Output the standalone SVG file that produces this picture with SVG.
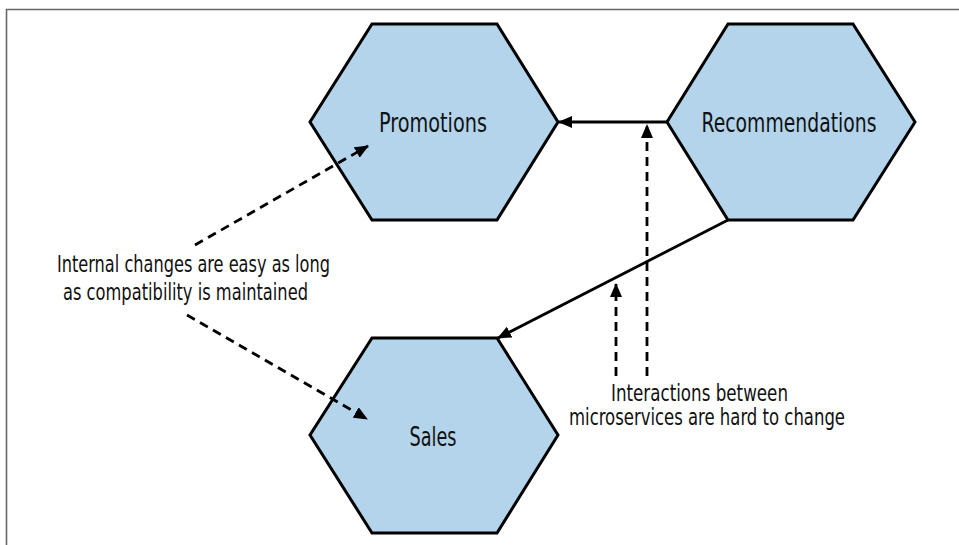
<svg xmlns="http://www.w3.org/2000/svg" width="959" height="545" viewBox="0 0 959 545">
<style>
.hex{fill:#b3d4ea;stroke:#000;stroke-width:3;stroke-linejoin:miter}
.lbl{font-family:"Liberation Sans Narrow","DejaVu Sans Condensed","Liberation Sans",sans-serif;fill:#111}
.node{font-size:26px;text-anchor:middle}
.note{font-size:23px}
.solid{stroke:#000;stroke-width:2.8;fill:none}
.dash{stroke:#000;stroke-width:2.8;fill:none;stroke-dasharray:9 6}
</style>
<defs>
<marker id="ah" markerUnits="userSpaceOnUse" markerWidth="14" markerHeight="12" refX="13" refY="6" orient="auto">
<path d="M0,0 L14,6 L0,12 Z" fill="#000"/>
</marker>
</defs>
<rect width="959" height="545" fill="#fff"/>
<path d="M6.5,545 V9.5 H959" fill="none" stroke="#666" stroke-width="1.6"/>
<g id="promotions">
<polygon class="hex" points="372,24 497,24 558,122 497,220 372,220 310,122"/>
<text class="lbl node" x="433" y="132" textLength="108" lengthAdjust="spacingAndGlyphs">Promotions</text>
</g>
<g id="recommendations">
<polygon class="hex" points="728,24 853,24 915,122 853,220 728,220 667,122"/>
<text class="lbl node" x="789" y="132" textLength="175" lengthAdjust="spacingAndGlyphs">Recommendations</text>
</g>
<g id="sales">
<polygon class="hex" points="372,338 497,338 558,435 497,533 372,533 310,435"/>
<text class="lbl node" x="433" y="446" textLength="47" lengthAdjust="spacingAndGlyphs">Sales</text>
</g>
<g id="connectors">
<line class="solid" x1="667" y1="122" x2="559" y2="122" marker-end="url(#ah)"/>
<line class="solid" x1="728" y1="220" x2="498" y2="338" marker-end="url(#ah)"/>
<line class="dash" x1="647" y1="376" x2="647" y2="125" marker-end="url(#ah)"/>
<line class="dash" x1="616" y1="376" x2="616" y2="284" marker-end="url(#ah)"/>
<line class="dash" x1="195" y1="245" x2="368" y2="146" marker-end="url(#ah)"/>
<line class="dash" x1="187" y1="315" x2="367" y2="419" marker-end="url(#ah)"/>
</g>
<g id="notes">
<text class="lbl note" x="57" y="272" textLength="273" lengthAdjust="spacingAndGlyphs">Internal changes are easy as long</text>
<text class="lbl note" x="63" y="300" textLength="245" lengthAdjust="spacingAndGlyphs">as compatibility is maintained</text>
<text class="lbl note" x="611" y="401" textLength="177" lengthAdjust="spacingAndGlyphs">Interactions between</text>
<text class="lbl note" x="569" y="425" textLength="276" lengthAdjust="spacingAndGlyphs">microservices are hard to change</text>
</g>
</svg>
